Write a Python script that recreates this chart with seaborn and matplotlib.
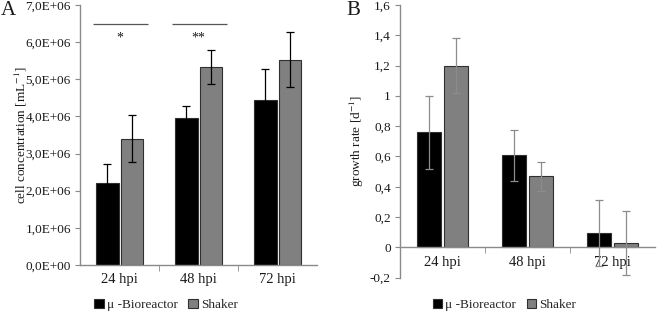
import seaborn as sns
import matplotlib.pyplot as plt
import matplotlib.ticker as mticker
import pandas as pd
import numpy as np

# values (mean and SD)
timepoints = ["24 hpi", "48 hpi", "72 hpi"]
vessels = ["\u03bc -Bioreactor", "Shaker"]

conc_bioreactor = [2.22e6, 3.97e6, 4.43e6]
conc_shaker = [3.40e6, 5.33e6, 5.52e6]
conc_sd_bioreactor = [0.50e6, 0.31e6, 0.85e6]
conc_sd_shaker = [0.63e6, 0.47e6, 0.74e6]

rate_bioreactor = [0.76, 0.607, 0.095]
rate_shaker = [1.20, 0.468, 0.029]
rate_sd_bioreactor = [0.24, 0.17, 0.215]
rate_sd_shaker = [0.18, 0.095, 0.21]

sig_groups = [0, 1]
sig_labels = ["*", "**"]
sig_line = 6.48e6
sig_text = 6.12e6

sns.set_style("ticks")
plt.rcParams["font.family"] = ["Liberation Serif", "DejaVu Serif"]
plt.rcParams["mathtext.fontset"] = "stix"

palette = {vessels[0]: "#000000", vessels[1]: "#808080"}
spine_col = "#8a8a8a"
text_col = "#1a1a1a"


def make_df(a, b):
    return pd.DataFrame({
        "time": timepoints * 2,
        "vessel": [vessels[0]] * 3 + [vessels[1]] * 3,
        "value": list(a) + list(b),
    })


def draw(ax, df, sd, ecolor, legend_pos):
    sns.barplot(data=df, x="time", y="value", hue="vessel", palette=palette,
                errorbar=None, width=0.63, gap=0.08, edgecolor="#303030",
                linewidth=0.8, ax=ax)
    bars = ax.patches[:6]
    xs = [p.get_x() + p.get_width() / 2 for p in bars]
    ys = [p.get_height() for p in bars]
    ax.errorbar(xs, ys, yerr=sd, fmt="none", ecolor=ecolor, elinewidth=0.9,
                capsize=2.6, capthick=0.9)
    ax.set_xlim(-0.5, 2.5)
    ax.set_xlabel("")
    sns.despine(ax=ax)
    for s in ["left", "bottom"]:
        ax.spines[s].set_color(spine_col)
        ax.spines[s].set_linewidth(1.0)
    ax.set_xticks([0.5, 1.5], minor=True)
    ax.tick_params(axis="x", which="major", length=0, labelsize=10.5, pad=6,
                   labelcolor=text_col)
    ax.tick_params(axis="x", which="minor", length=4, color=spine_col)
    ax.tick_params(axis="y", length=3.5, color=spine_col, labelsize=9.5,
                   pad=3, labelcolor=text_col)
    ax.legend(loc="center", bbox_to_anchor=legend_pos, ncol=2,
              frameon=False, fontsize=9.5, handlelength=0.7,
              handleheight=0.7, handletextpad=0.25, columnspacing=0.8)


fig = plt.figure(figsize=(6.58, 3.13), dpi=100)
axA = fig.add_axes([0.1216, 0.1534, 0.3602, 0.8306])
axB = fig.add_axes([0.6079, 0.1128, 0.3875, 0.8712])

# panel A
draw(axA, make_df(conc_bioreactor, conc_shaker),
     conc_sd_bioreactor + conc_sd_shaker, "#000000", (0.363, -0.153))
axA.set_ylim(0, 7e6)
axA.set_yticks(np.arange(0, 7.01e6, 1e6))
axA.yaxis.set_major_formatter(
    mticker.FuncFormatter(lambda v, p: f"{v:.1E}".replace(".", ",")))
axA.set_ylabel("cell concentration [mL$^{-1}$]", fontsize=9.5, color=text_col)
axA.yaxis.set_label_coords(-0.215, 0.5)
for g, lab in zip(sig_groups, sig_labels):
    axA.hlines(sig_line, g - 0.33, g + 0.36, color="#555555", lw=0.9)
    axA.text(g, sig_text, lab, ha="center", va="center", fontsize=10,
             color=text_col)

# panel B
draw(axB, make_df(rate_bioreactor, rate_shaker),
     rate_sd_bioreactor + rate_sd_shaker, "#8c8c8c", (0.41, -0.1))
axB.set_ylim(-0.2, 1.6)
axB.set_yticks(np.arange(-0.2, 1.61, 0.2))
axB.yaxis.set_major_formatter(
    mticker.FuncFormatter(lambda v, p: f"{round(v, 1):g}".replace(".", ",")))
axB.spines["bottom"].set_position(("data", 0))
axB.set_ylabel("growth rate [d$^{-1}$]", fontsize=9.5, color=text_col)
axB.yaxis.set_label_coords(-0.133, 0.5)

fig.text(0.012, 0.968, "A", fontsize=15, va="center", ha="center",
         color=text_col)
fig.text(0.537, 0.968, "B", fontsize=15, va="center", ha="center",
         color=text_col)

fig.savefig("out.png", dpi=100)
